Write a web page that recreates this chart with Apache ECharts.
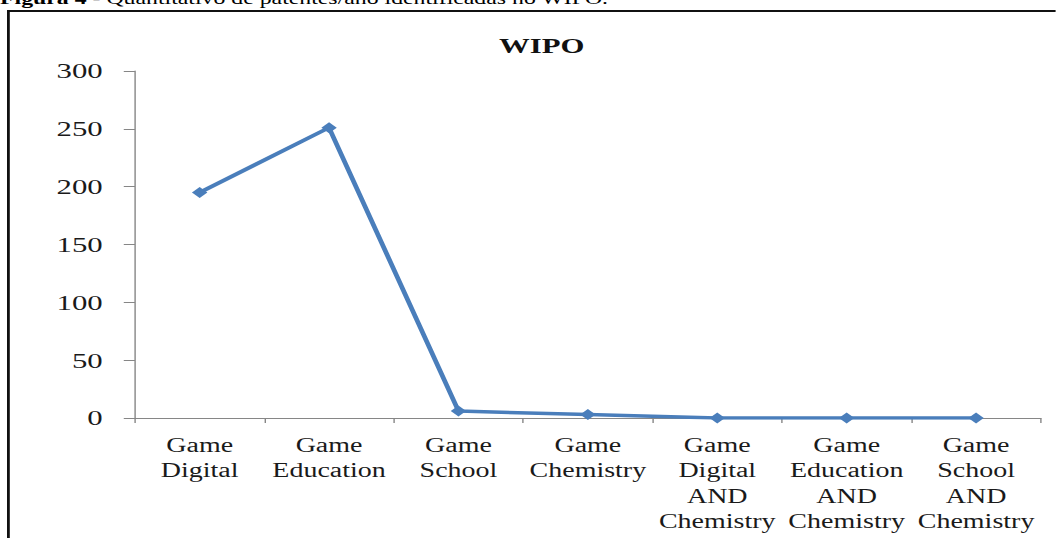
<!DOCTYPE html>
<html>
<head>
<meta charset="utf-8">
<script src="https://cdn.jsdelivr.net/npm/echarts@6/dist/echarts.min.js"></script>
<style>
html,body{margin:0;padding:0;background:#fff;overflow:hidden;width:1056px;height:538px;}
#wrap{width:1056px;height:538px;overflow:hidden;position:relative;}
#chart{position:absolute;left:0;top:0;width:754px;height:538px;transform:scaleX(1.4);transform-origin:0 0;}
</style>
</head>
<body>
<div id="wrap"><div id="chart"></div></div>
<script>
const categories = [
  'Game\nDigital',
  'Game\nEducation',
  'Game\nSchool',
  'Game\nChemistry',
  'Game\nDigital\nAND\nChemistry',
  'Game\nEducation\nAND\nChemistry',
  'Game\nSchool\nAND\nChemistry'
];
const patents = [195, 251, 6, 3, 0, 0, 0];
const yTicks = [0, 50, 100, 150, 200, 250, 300];
const chartTitle = 'WIPO';
const captionBold = 'Figura 4';
const captionText = ' - Quantitativo de patentes/ano identificadas no WIPO.';

const chart = echarts.init(document.getElementById('chart'), null, {renderer: 'svg'});
const serif = '"Liberation Serif", "Times New Roman", serif';
chart.setOption({
  animation: false,
  backgroundColor: '#fff',
  grid: {left: 96.4, right: 10.6, top: 71, bottom: 120, containLabel: false},
  graphic: [
    {type: 'rect', shape: {x: 6, y: 11, width: 2000, height: 1000},
     style: {fill: 'none', stroke: '#111', lineWidth: 2}, z: 100},
    {type: 'text', x: 0, y: 7,
     style: {text: '{b|' + captionBold + '}{n|' + captionText + '}', verticalAlign: 'bottom',
       rich: {b: {fontFamily: serif, fontSize: 17, fontWeight: 'bold', fill: '#000'},
              n: {fontFamily: serif, fontSize: 17, fill: '#000'}}}},
    {type: 'text', x: 387, y: 46,
     style: {text: chartTitle, align: 'center', verticalAlign: 'middle',
       fontFamily: serif, fontSize: 22, fontWeight: 'bold', fill: '#111'}}
  ],
  xAxis: {
    type: 'category',
    data: categories,
    boundaryGap: true,
    axisLine: {lineStyle: {color: '#868686', width: 1}},
    axisTick: {show: true, length: 5, lineStyle: {color: '#868686'}},
    axisLabel: {interval: 0, margin: 14, fontFamily: serif, fontSize: 20, lineHeight: 25.5,
      color: '#1a1a1a', align: 'center'}
  },
  yAxis: {
    type: 'value',
    min: yTicks[0],
    max: yTicks[yTicks.length - 1],
    interval: yTicks[1] - yTicks[0],
    axisLine: {show: true, lineStyle: {color: '#868686', width: 1}},
    axisTick: {show: true, length: 8, lineStyle: {color: '#868686'}},
    splitLine: {show: false},
    axisLabel: {margin: 23, fontFamily: serif, fontSize: 22, color: '#1a1a1a'}
  },
  series: [{
    type: 'line',
    data: patents,
    symbol: 'diamond',
    symbolSize: 11,
    itemStyle: {color: '#4a7ebb'},
    lineStyle: {color: '#4a7ebb', width: 3.5}
  }]
});
</script>
</body>
</html>
